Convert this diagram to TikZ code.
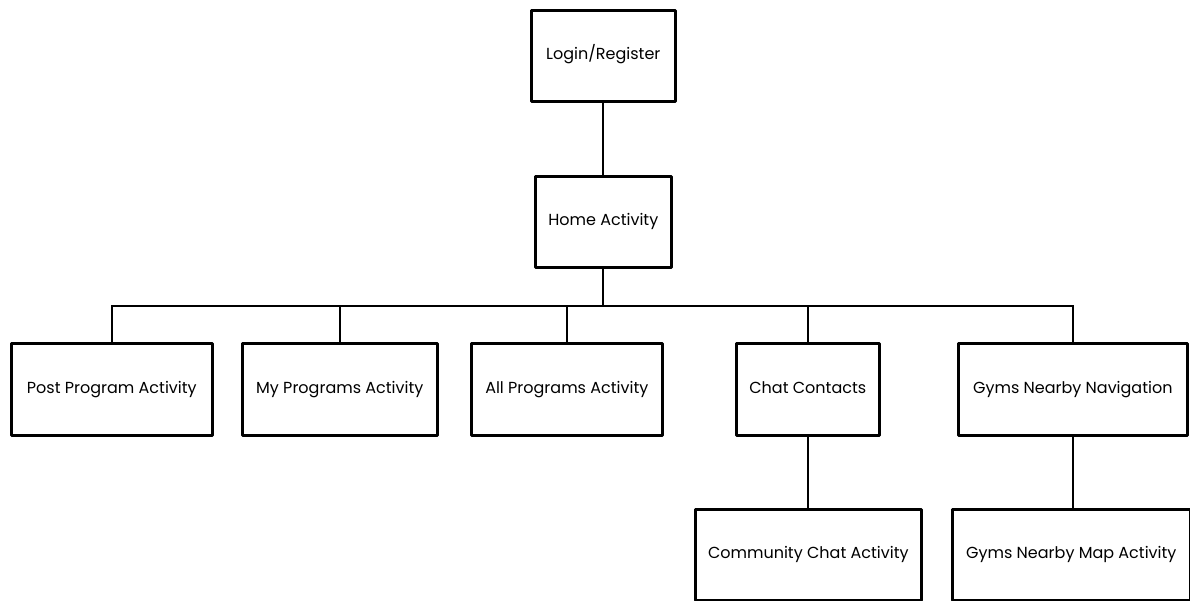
\documentclass[tikz,border=0pt]{standalone}
\usepackage{fontspec}
\setmainfont{Poppins}
\usetikzlibrary{calc}
\begin{document}
\begin{tikzpicture}[x=1pt,y=-1pt,
  screen/.style={draw=black, line width=2.6pt, line join=round, fill=white,
    inner sep=0pt, anchor=north west, text height=12pt, text depth=4pt,
    font=\fontsize{16}{18}\selectfont},
  link/.style={draw=black, line width=2pt}]
\useasboundingbox (0,0) rectangle (1190,601);
% screens: top-left corner, width and height
\node[screen, minimum width=144pt, minimum height=91pt] (login) at (530,9) {Login/Register};
\node[screen, minimum width=136pt, minimum height=91pt] (home) at (534,175) {Home Activity};
\node[screen, minimum width=201pt, minimum height=92pt] (post) at (10,342) {Post Program Activity};
\node[screen, minimum width=195pt, minimum height=92pt] (mine) at (241,342) {My Programs Activity};
\node[screen, minimum width=191pt, minimum height=92pt] (all) at (470,342) {All Programs Activity};
\node[screen, minimum width=143pt, minimum height=92pt] (chat) at (735,342) {Chat Contacts};
\node[screen, minimum width=229pt, minimum height=92pt] (gyms) at (957,342) {Gyms Nearby Navigation};
\node[screen, minimum width=226pt, minimum height=91pt] (community) at (694,508) {Community Chat Activity};
\node[screen, minimum width=238pt, minimum height=91pt] (gymmap) at (951,508) {Gyms Nearby Map Activity};
% connectors
\coordinate (bus) at ($(home.south)+(0,37)$);
\draw[link] (login.south) -- (home.north);
\draw[link] (home.south) -- (bus);
\draw[link] (post.north) |- (bus);
\draw[link] (gyms.north) |- (bus);
\draw[link] (mine.north) -- (mine.north |- bus);
\draw[link] (all.north) -- (all.north |- bus);
\draw[link] (chat.north) -- (chat.north |- bus);
\draw[link] (chat.south) -- (community.north -| chat.south);
\draw[link] (gyms.south) -- (gymmap.north -| gyms.south);
\end{tikzpicture}
\end{document}
